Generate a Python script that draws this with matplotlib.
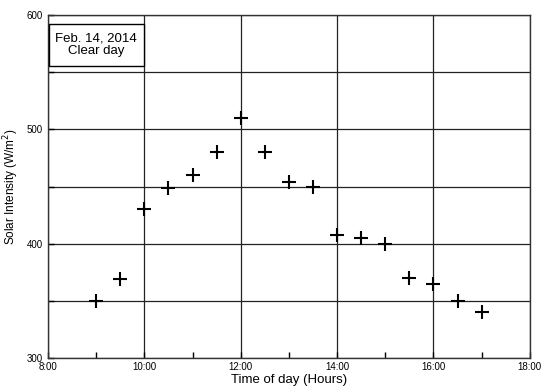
import matplotlib
matplotlib.use('Agg')
import matplotlib.pyplot as plt
from matplotlib.ticker import MultipleLocator, FuncFormatter
from matplotlib.patches import Rectangle

plt.rcParams['font.family'] = ['Liberation Sans', 'DejaVu Sans']

# time of day and measured solar intensity (W/m2)
times = ['9:00', '9:30', '10:00', '10:30', '11:00', '11:30', '12:00', '12:30', '13:00',
         '13:30', '14:00', '14:30', '15:00', '15:30', '16:00', '16:30', '17:00']
intensity = [350, 369, 430, 449, 460, 480, 510, 480, 454,
             450, 408, 405, 400, 370, 365, 350, 340]

hours = [int(t.split(':')[0]) + int(t.split(':')[1]) / 60 for t in times]

fig = plt.figure(figsize=(5.42, 3.91), dpi=100)
ax = fig.add_axes([0.0886, 0.0844, 0.889, 0.877])

ax.plot(hours, intensity, linestyle='none', marker='+', color='black',
        markersize=10, markeredgewidth=1.5, zorder=3)

ax.set_xlim(8, 18)
ax.set_ylim(300, 600)
ax.xaxis.set_major_locator(MultipleLocator(2))
ax.xaxis.set_minor_locator(MultipleLocator(1))
ax.yaxis.set_major_locator(MultipleLocator(100))
ax.yaxis.set_minor_locator(MultipleLocator(50))
ax.xaxis.set_major_formatter(FuncFormatter(lambda v, p: '%d:00' % v))

ax.grid(True, which='major', color='#222222', linewidth=0.9)
ax.grid(True, which='minor', axis='y', color='#222222', linewidth=0.9)
ax.set_axisbelow(True)
ax.tick_params(which='both', direction='in', labelsize=7, length=4, width=1)
ax.tick_params(axis='x', pad=3)

for s in ax.spines.values():
    s.set_linewidth(1)
    s.set_color('#333333')

ax.set_xlabel('Time of day (Hours)', fontsize=9.5, labelpad=1)
ax.set_ylabel('Solar Intensity (W/m$^2$)', fontsize=8.5, labelpad=4)

# note box in upper left
ax.add_patch(Rectangle((8.02, 555.5), 1.97, 36.5, facecolor='white',
                       edgecolor='black', linewidth=1, zorder=4))
ax.text(9.0, 574, 'Feb. 14, 2014\nClear day', ha='center', va='center',
        fontsize=9.5, linespacing=1.1, zorder=5)

fig.savefig('out.png', dpi=100)
